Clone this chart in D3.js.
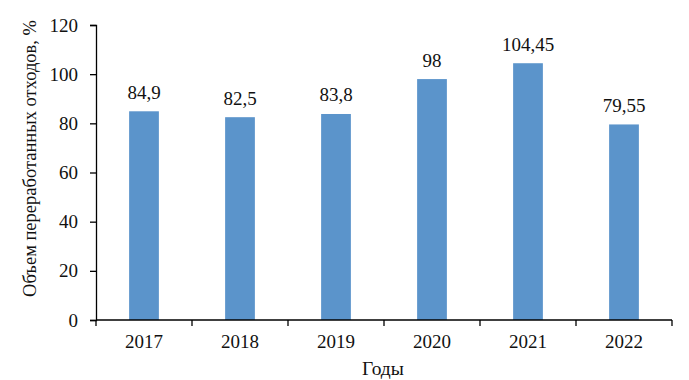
<!DOCTYPE html>
<html><head><meta charset="utf-8">
<script src="https://cdn.jsdelivr.net/npm/d3@7"></script>
<style>body{margin:0;background:#fff}svg{display:block}text{font-family:"Liberation Serif","Times New Roman",serif;fill:#111}</style>
</head><body><svg id="c" width="689" height="380"></svg>
<script>
const years = ["2017","2018","2019","2020","2021","2022"];
const values = [84.9, 82.5, 83.8, 98, 104.45, 79.55];
const labels = ["84,9","82,5","83,8","98","104,45","79,55"];
const yTicks = [0,20,40,60,80,100,120];

const svg = d3.select("#c");
const m = {l:96, r:17, t:25, b:60};
const W = 689, H = 380;
const FS = "19px";
const x = d3.scaleBand().domain(years).range([m.l, W-m.r]).paddingInner(0).paddingOuter(0);
const y = d3.scaleLinear().domain([0,120]).range([H-m.b, m.t]);
const bw = x.bandwidth()*0.31;

svg.selectAll("rect.bar").data(values).enter().append("rect")
  .attr("x",(d,i)=>x(years[i])+x.bandwidth()/2-bw/2)
  .attr("y",d=>y(d)).attr("width",bw).attr("height",d=>y(0)-y(d))
  .attr("fill","#5b94cb");

svg.selectAll("text.lbl").data(values).enter().append("text")
  .attr("x",(d,i)=>x(years[i])+x.bandwidth()/2).attr("y",d=>y(d)-12.5)
  .attr("text-anchor","middle").style("font-size",FS).text((d,i)=>labels[i]);

const yAxis = d3.axisLeft(y).tickValues(yTicks).tickSize(6).tickPadding(12).tickFormat(d3.format("d"));
const gy = svg.append("g").attr("transform",`translate(${m.l},0)`).call(yAxis);
gy.select(".domain").attr("stroke","#000").attr("stroke-width",1.3);
gy.selectAll(".tick line").attr("stroke","#000").attr("stroke-width",1.3);
gy.selectAll(".tick text").style("font-size",FS).style("font-family","Liberation Serif").attr("fill","#111");

// x axis with ticks at band boundaries
const gx = svg.append("g").attr("transform",`translate(0,${y(0)})`);
gx.append("line").attr("x1",m.l).attr("x2",W-m.r).attr("stroke","#000").attr("stroke-width",1.3);
const bounds = years.map(d=>x(d)).concat([x(years[years.length-1])+x.bandwidth()]);
gx.selectAll("line.t").data(bounds).enter().append("line")
  .attr("x1",d=>d).attr("x2",d=>d).attr("y1",0).attr("y2",6).attr("stroke","#000").attr("stroke-width",1.3);
gx.selectAll("text").data(years).enter().append("text")
  .attr("x",d=>x(d)+x.bandwidth()/2).attr("y",28).attr("text-anchor","middle")
  .style("font-size",FS).text(d=>d);

svg.append("text").attr("x",383).attr("y",375).attr("text-anchor","middle").style("font-size","19.5px").text("Годы");
svg.append("text").attr("transform",`translate(36,${(m.t+H-m.b)/2-14}) rotate(-90)`)
  .attr("text-anchor","middle").style("font-size","18.5px").text("Объем переработанных отходов, %");
</script></body></html>
